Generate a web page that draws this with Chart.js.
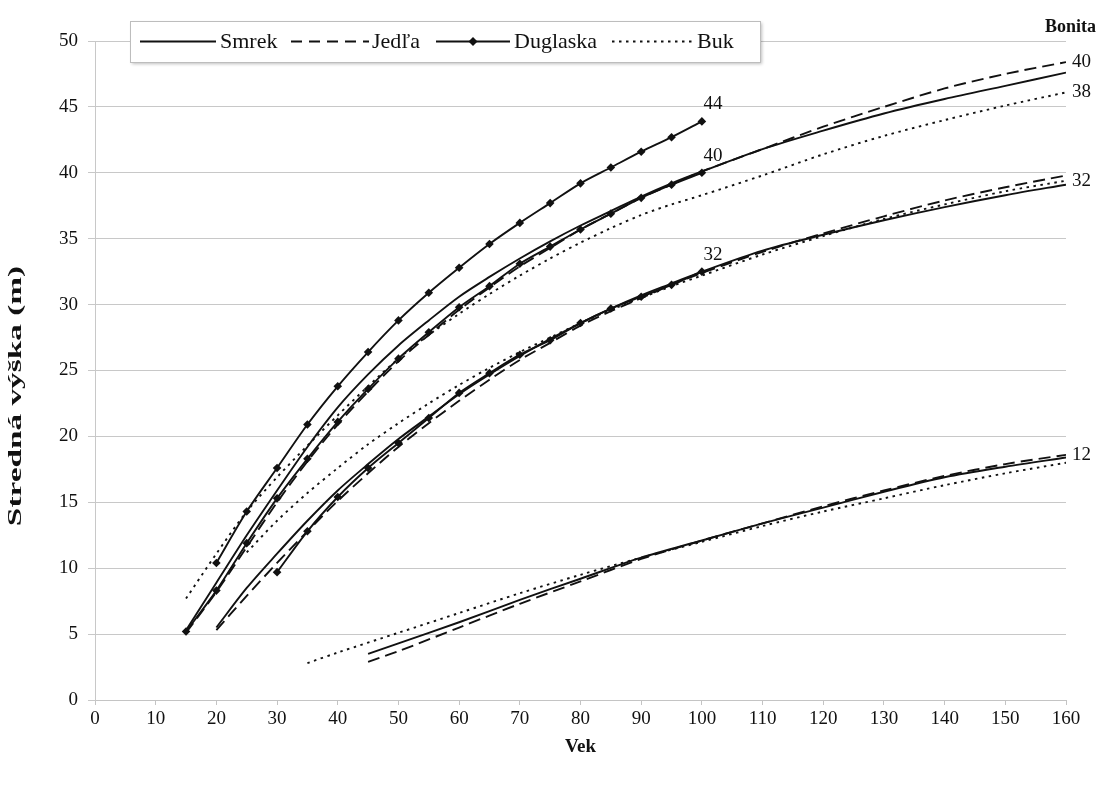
<!DOCTYPE html>
<html>
<head>
<meta charset="utf-8">
<script src="https://cdn.jsdelivr.net/npm/chart.js@4.4.1/dist/chart.umd.min.js"></script>
<style>
    html, body { margin: 0; padding: 0; background: #fff; }
    #wrap { width: 1099px; height: 790px; position: relative; }
</style>
</head>
<body>
<div id="wrap"><canvas id="chart"></canvas></div>
<script>
// axis ticks
const xTicks = [0, 10, 20, 30, 40, 50, 60, 70, 80, 90, 100, 110, 120, 130, 140, 150, 160];
const yTicks = [0, 5, 10, 15, 20, 25, 30, 35, 40, 45, 50];

// ages (Vek)
const ages15 = [15, 20, 25, 30, 35, 40, 45, 50, 55, 60, 65, 70, 75, 80, 85, 90, 95, 100, 110, 120, 130, 140, 150, 160];
const ages20 = [20, 25, 30, 35, 40, 45, 50, 55, 60, 65, 70, 75, 80, 85, 90, 95, 100, 110, 120, 130, 140, 150, 160];
const ages25 = [25, 30, 35, 40, 45, 50, 55, 60, 65, 70, 75, 80, 85, 90, 95, 100, 110, 120, 130, 140, 150, 160];
const ages45 = [45, 50, 60, 70, 80, 90, 100, 110, 120, 130, 140, 150, 160];
const ages35 = [35, 40, 50, 60, 70, 80, 90, 100, 110, 120, 130, 140, 150, 160];
const dugAges44 = [20, 25, 30, 35, 40, 45, 50, 55, 60, 65, 70, 75, 80, 85, 90, 95, 100];
const dugAges40 = [15, 20, 25, 30, 35, 40, 45, 50, 55, 60, 65, 70, 75, 80, 85, 90, 95, 100];
const dugAges32 = [30, 35, 40, 45, 50, 55, 60, 65, 70, 75, 80, 85, 90, 95, 100];

// Smrek
const smrek40 = [5.3, 8.9, 12.5, 15.9, 19.2, 22.2, 24.7, 26.9, 28.8, 30.6, 32.1, 33.5, 34.8, 36.0, 37.1, 38.2, 39.2, 40.1, 41.8, 43.2, 44.5, 45.6, 46.6, 47.6];
const smrek32 = [5.5, 8.5, 11.1, 13.6, 15.9, 17.9, 19.8, 21.5, 23.2, 24.7, 26.1, 27.4, 28.6, 29.7, 30.7, 31.6, 32.5, 34.1, 35.3, 36.4, 37.4, 38.3, 39.1];
const smrek12 = [3.5, 4.3, 5.9, 7.6, 9.2, 10.8, 12.1, 13.4, 14.6, 15.8, 16.9, 17.7, 18.4];

// Jedľa
const jedla40 = [5.1, 8.2, 11.6, 15.0, 18.1, 20.9, 23.4, 25.7, 27.7, 29.6, 31.3, 32.9, 34.3, 35.7, 36.9, 38.1, 39.1, 40.1, 41.8, 43.5, 45.0, 46.4, 47.5, 48.4];
const jedla32 = [5.3, 7.9, 10.4, 12.8, 15.1, 17.2, 19.2, 21.0, 22.7, 24.3, 25.8, 27.1, 28.4, 29.5, 30.5, 31.5, 32.4, 34.0, 35.4, 36.7, 37.9, 38.9, 39.8];
const jedla12 = [2.9, 3.7, 5.5, 7.3, 9.0, 10.7, 12.1, 13.4, 14.7, 15.9, 17.0, 17.9, 18.6];

// Duglaska
const dug44 = [10.4, 14.3, 17.6, 20.9, 23.8, 26.4, 28.8, 30.9, 32.8, 34.6, 36.2, 37.7, 39.2, 40.4, 41.6, 42.7, 43.9];
const dug40 = [5.2, 8.3, 11.9, 15.3, 18.3, 21.1, 23.6, 25.9, 27.9, 29.8, 31.4, 33.1, 34.4, 35.7, 36.9, 38.1, 39.1, 40.0];
const dug32 = [9.7, 12.8, 15.4, 17.6, 19.5, 21.4, 23.3, 24.8, 26.2, 27.3, 28.6, 29.7, 30.6, 31.5, 32.5];

// Buk
const buk38 = [7.7, 11.1, 14.3, 16.9, 19.3, 21.6, 23.8, 25.9, 27.7, 29.3, 30.8, 32.2, 33.5, 34.7, 35.8, 36.8, 37.6, 38.3, 39.8, 41.4, 42.8, 44.0, 45.1, 46.1];
const buk32 = [11.2, 13.6, 15.7, 17.6, 19.4, 21.0, 22.5, 23.9, 25.2, 26.4, 27.5, 28.6, 29.6, 30.5, 31.4, 32.2, 33.8, 35.2, 36.5, 37.6, 38.6, 39.4];
const buk12 = [2.8, 3.6, 5.1, 6.6, 8.1, 9.5, 10.8, 12.0, 13.2, 14.3, 15.3, 16.3, 17.2, 18.0];

const species = ['Smrek', 'Jedľa', 'Duglaska', 'Buk'];
const dugLabels = ['44', '40', '32'];
const endLabels = ['40', '38', '32', '12'];

const SERIF = '"Liberation Serif", "DejaVu Serif", serif';
const INK = '#111';

const pts = (ages, h) => ages.map((a, i) => ({ x: a, y: h[i] }));

// line styles per species
const styles = {
    Smrek: { borderDash: [], pointRadius: 0 },
    'Jedľa': { borderDash: [12, 6], pointRadius: 0 },
    Duglaska: { borderDash: [], pointRadius: 4.3, pointStyle: 'rectRot' },
    Buk: { borderDash: [2.5, 4.5], pointRadius: 0 }
};

function ds(name, ages, h) {
    return Object.assign({
        label: name,
        data: pts(ages, h),
        showLine: true,
        borderColor: INK,
        backgroundColor: INK,
        borderWidth: 1.9,
        pointBorderWidth: 0,
        tension: 0.3,
        fill: false
    }, styles[name]);
}

const datasets = [
    ds('Smrek', ages15, smrek40),
    ds('Smrek', ages20, smrek32),
    ds('Smrek', ages45, smrek12),
    ds('Jedľa', ages15, jedla40),
    ds('Jedľa', ages20, jedla32),
    ds('Jedľa', ages45, jedla12),
    ds('Duglaska', dugAges44, dug44),
    ds('Duglaska', dugAges40, dug40),
    ds('Duglaska', dugAges32, dug32),
    ds('Buk', ages15, buk38),
    ds('Buk', ages25, buk32),
    ds('Buk', ages35, buk12)
];

// text labels next to the curves, y title, legend box
const decorations = {
    id: 'decorations',
    afterDatasetsDraw(chart) {
        const { ctx, scales: { x, y } } = chart;
        ctx.save();
        ctx.fillStyle = INK;
        ctx.font = '19px ' + SERIF;

        // bonita labels at age 100 for Duglaska curves
        ctx.textAlign = 'center';
        ctx.textBaseline = 'middle';
        [dug44, dug40, dug32].forEach((h, i) => {
            ctx.fillText(dugLabels[i], x.getPixelForValue(100) + 11, y.getPixelForValue(h[h.length - 1]) - 17);
        });

        // bonita labels at the right end
        ctx.textAlign = 'left';
        const ends = [jedla40, buk38, buk32, jedla12];
        ends.forEach((h, i) => {
            ctx.fillText(endLabels[i], x.getPixelForValue(160) + 6, y.getPixelForValue(h[h.length - 1]));
        });

        ctx.font = 'bold 18px ' + SERIF;
        ctx.textAlign = 'right';
        ctx.fillText('Bonita', chart.width - 3, 27);

        // y axis title, stretched along its length like the original
        ctx.save();
        ctx.translate(16, 396);
        ctx.rotate(-Math.PI / 2);
        ctx.scale(1.85, 1);
        ctx.textAlign = 'center';
        ctx.font = 'bold 18px ' + SERIF;
        ctx.fillText('Stredná výška (m)', 0, 0);
        ctx.restore();

        // legend
        const bx = 130, by = 21, bw = 630, bh = 41;
        ctx.shadowColor = 'rgba(0,0,0,0.25)';
        ctx.shadowBlur = 3;
        ctx.shadowOffsetX = 2;
        ctx.shadowOffsetY = 2;
        ctx.fillStyle = '#fff';
        ctx.fillRect(bx, by, bw, bh);
        ctx.shadowColor = 'transparent';
        ctx.strokeStyle = '#bdbdbd';
        ctx.lineWidth = 1;
        ctx.strokeRect(bx + 0.5, by + 0.5, bw, bh);

        ctx.font = '22px ' + SERIF;
        ctx.textAlign = 'left';
        ctx.fillStyle = INK;
        ctx.strokeStyle = INK;
        ctx.lineWidth = 1.9;
        const ly = by + bh / 2;
        const sampleX = [[140, 216], [291, 369], [436, 510], [612, 693]];
        const textX = [220, 372, 514, 697];
        species.forEach((name, i) => {
            const st = styles[name];
            ctx.setLineDash(name === 'Jedľa' ? [11, 7] : st.borderDash);
            ctx.beginPath();
            ctx.moveTo(sampleX[i][0], ly);
            ctx.lineTo(sampleX[i][1], ly);
            ctx.stroke();
            ctx.setLineDash([]);
            if (st.pointStyle) {
                const mx = (sampleX[i][0] + sampleX[i][1]) / 2;
                ctx.beginPath();
                ctx.moveTo(mx, ly - 4.5);
                ctx.lineTo(mx + 4.5, ly);
                ctx.lineTo(mx, ly + 4.5);
                ctx.lineTo(mx - 4.5, ly);
                ctx.closePath();
                ctx.fill();
            }
            ctx.fillText(name, textX[i], ly + 1);
        });
        ctx.restore();
    }
};

new Chart(document.getElementById('chart'), {
    type: 'scatter',
    data: { datasets },
    options: {
        responsive: true,
        maintainAspectRatio: false,
        animation: false,
        layout: { padding: { top: 41, right: 33, left: 0, bottom: 28 } },
        plugins: {
            legend: { display: false },
            tooltip: { enabled: false }
        },
        scales: {
            x: {
                type: 'linear',
                min: 0,
                max: 160,
                afterFit: s => { s.height = 62; },
                afterBuildTicks: s => { s.ticks = xTicks.map(v => ({ value: v })); },
                ticks: { color: INK, font: { family: SERIF, size: 19 }, padding: 3 },
                grid: { drawOnChartArea: false, color: '#c4c4c4', tickLength: 5 },
                border: { color: '#c4c4c4' },
                title: {
                    display: true,
                    text: 'Vek',
                    color: INK,
                    font: { family: SERIF, size: 19, weight: 'bold' },
                    padding: { top: 0, bottom: 4 }
                }
            },
            y: {
                min: 0,
                max: 50,
                afterFit: s => { s.width = 95; },
                afterBuildTicks: s => { s.ticks = yTicks.map(v => ({ value: v })); },
                ticks: { color: INK, font: { family: SERIF, size: 19 }, padding: 10 },
                grid: { color: '#c8c8c8', tickLength: 7 },
                border: { color: '#c8c8c8' },
                title: { display: false }
            }
        }
    },
    plugins: [decorations]
});
</script>
</body>
</html>
